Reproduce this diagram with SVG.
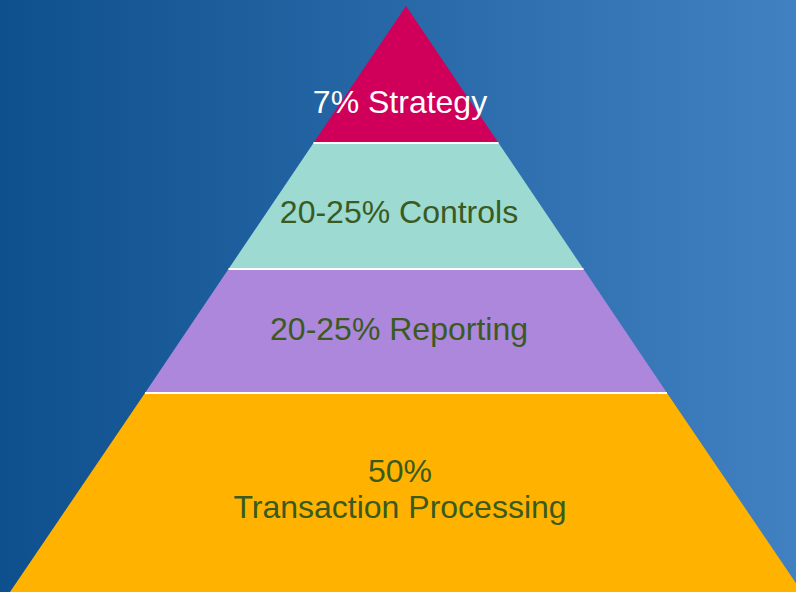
<svg xmlns="http://www.w3.org/2000/svg" width="796" height="592" viewBox="0 0 796 592">
<defs>
<linearGradient id="bg" x1="0" y1="0" x2="1" y2="0">
<stop offset="0" stop-color="#0e4f8e"/>
<stop offset="1" stop-color="#4181c1"/>
</linearGradient>
</defs>
<style>
.lbl{font-family:"Liberation Sans",Arial,sans-serif;font-size:32px;text-anchor:middle;fill:#3a5a1f}
.sep{stroke:#ffffff;stroke-width:2}
</style>
<rect x="0" y="0" width="796" height="592" fill="url(#bg)"/>
<g id="strategy">
<polygon points="406,6 498.5,143 313.5,143" fill="#d0005a"/>
<text class="lbl" x="400" y="113" style="fill:#ffffff">7% Strategy</text>
</g>
<g id="controls">
<polygon points="313.5,143 498.5,143 583.5,269 228.5,269" fill="#9cdad2"/>
<text class="lbl" x="399" y="223">20-25% Controls</text>
</g>
<g id="reporting">
<polygon points="228.5,269 583.5,269 667,393 145,393" fill="#ac87dc"/>
<text class="lbl" x="399" y="340">20-25% Reporting</text>
</g>
<g id="transaction">
<polygon points="145,393 667,393 802,592 10,592" fill="#ffb300"/>
<text class="lbl" x="400" y="482">50%</text>
<text class="lbl" x="400" y="518">Transaction Processing</text>
</g>
<g id="connectors">
<line class="sep" x1="313.5" y1="143" x2="498.5" y2="143"/>
<line class="sep" x1="228.5" y1="269" x2="583.5" y2="269"/>
<line class="sep" x1="145" y1="393" x2="667" y2="393"/>
</g>
</svg>
